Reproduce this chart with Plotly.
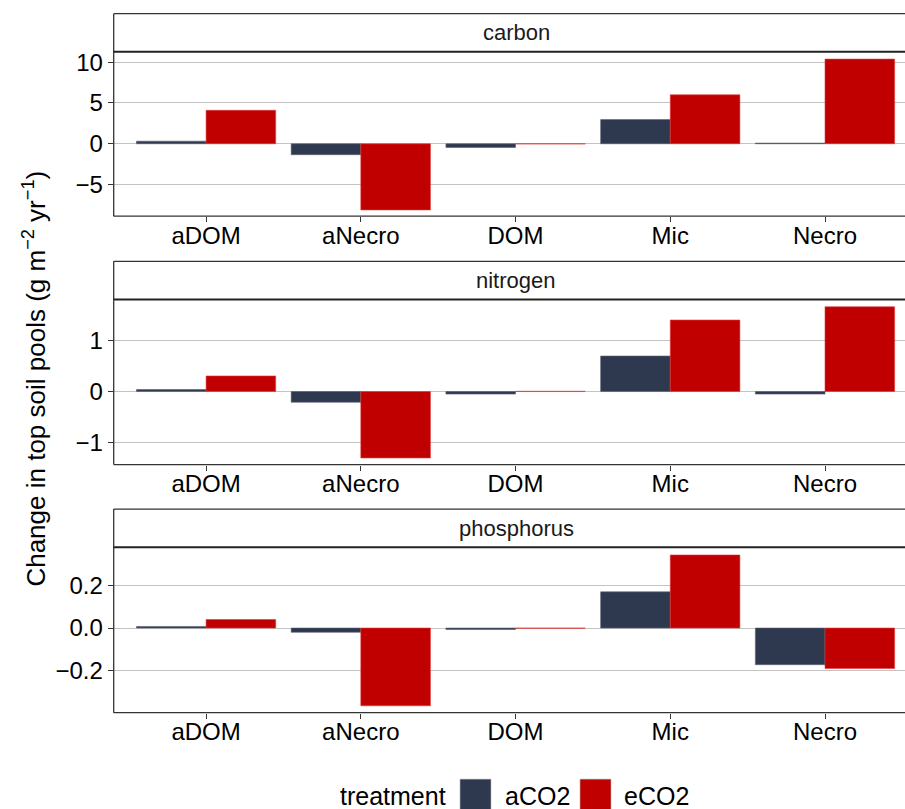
import plotly.graph_objects as go

categories = ["aDOM", "aNecro", "DOM", "Mic", "Necro"]
elements = ["carbon", "nitrogen", "phosphorus"]
treatments = ["aCO2", "eCO2"]

carbon_aCO2 = [0.32, -1.34, -0.45, 2.96, 0.08]
carbon_eCO2 = [4.10, -8.10, -0.02, 6.00, 10.37]
nitrogen_aCO2 = [0.04, -0.21, -0.05, 0.695, -0.05]
nitrogen_eCO2 = [0.305, -1.30, 0.006, 1.40, 1.66]
phosphorus_aCO2 = [0.0075, -0.02, -0.007, 0.169, -0.171]
phosphorus_eCO2 = [0.04, -0.363, -0.001, 0.341, -0.189]

y_ticks_carbon = [-5, 0, 5, 10]
y_ticks_nitrogen = [-1, 0, 1]
y_ticks_phosphorus = [-0.2, 0.0, 0.2]
y_ticklabels_carbon = ["\u22125", "0", "5", "10"]
y_ticklabels_nitrogen = ["\u22121", "0", "1"]
y_ticklabels_phosphorus = ["\u22120.2", "0.0", "0.2"]

series = {
    "carbon": (carbon_aCO2, carbon_eCO2),
    "nitrogen": (nitrogen_aCO2, nitrogen_eCO2),
    "phosphorus": (phosphorus_aCO2, phosphorus_eCO2),
}
ticks = {
    "carbon": (y_ticks_carbon, y_ticklabels_carbon),
    "nitrogen": (y_ticks_nitrogen, y_ticklabels_nitrogen),
    "phosphorus": (y_ticks_phosphorus, y_ticklabels_phosphorus),
}

W, H = 905, 809
col_a = "#2E3950"
col_e = "#C00000"
FONT = "Liberation Sans, Arial, sans-serif"

# pixel layout (top of strip, strip bottom / plot top, plot bottom)
panels_px = [(10.7, 49.0, 214.0), (259.3, 297.7, 463.3), (508.0, 546.3, 712.3)]
yranges = [(-8.87, 11.26), (-1.43, 1.80), (-0.395, 0.377)]
x_left_px = 113.7

def px_x(p):
    return p / W

def px_y(p):
    return 1 - p / H

fig = go.Figure()
layout = dict(
    width=W, height=H,
    margin=dict(l=0, r=0, t=0, b=0),
    paper_bgcolor="white", plot_bgcolor="white",
    barmode="group", bargap=0.1, bargroupgap=0,
    showlegend=False,
    font=dict(family=FONT, color="black"),
)
shapes = []
annotations = []

for i, el in enumerate(elements):
    n = "" if i == 0 else str(i + 1)
    a_vals, e_vals = series[el]
    fig.add_trace(go.Bar(x=categories, y=a_vals, name="aCO2", marker=dict(color=col_a, line=dict(color="#5A6274", width=0.6)),
                         xaxis="x" + n, yaxis="y" + n, showlegend=False))
    fig.add_trace(go.Bar(x=categories, y=e_vals, name="eCO2", marker=dict(color=col_e, line=dict(color="#E03A3A", width=0.6)),
                         xaxis="x" + n, yaxis="y" + n, showlegend=False))
    st, pt, pb = panels_px[i]
    tv, tt = ticks[el]
    layout["xaxis" + n] = dict(
        domain=[px_x(x_left_px), 1], anchor="y" + n,
        range=[-0.597, 4.517], type="category",
        showgrid=False, zeroline=False,
        ticks="outside", ticklen=5, tickwidth=1, tickcolor="#333333",
        tickfont=dict(size=24, family=FONT, color="black"),
        ticklabelstandoff=-7,
        showline=False, fixedrange=True,
    )
    layout["yaxis" + n] = dict(
        domain=[px_y(pb), px_y(pt)], anchor="x" + n,
        range=list(yranges[i]),
        tickvals=tv, ticktext=tt,
        showgrid=True, gridcolor="#C4C4C4", gridwidth=1,
        zeroline=False,
        ticks="outside", ticklen=5, tickwidth=1, tickcolor="#333333",
        tickfont=dict(size=24, family=FONT, color="black"),
        showline=False, fixedrange=True,
    )
    # panel border (left, bottom) + strip box
    shapes.append(dict(type="line", xref="paper", yref="paper",
                       x0=px_x(x_left_px), x1=px_x(x_left_px), y0=px_y(pb), y1=px_y(st),
                       line=dict(color="#333333", width=1.3)))
    shapes.append(dict(type="line", xref="paper", yref="paper",
                       x0=px_x(x_left_px), x1=1.0, y0=px_y(pb), y1=px_y(pb),
                       line=dict(color="#333333", width=1.3)))
    shapes.append(dict(type="line", xref="paper", yref="paper",
                       x0=px_x(x_left_px), x1=1.0, y0=px_y(st), y1=px_y(st),
                       line=dict(color="#333333", width=1.3)))
    shapes.append(dict(type="line", xref="paper", yref="paper",
                       x0=px_x(x_left_px), x1=1.0, y0=px_y(pt), y1=px_y(pt),
                       line=dict(color="#222222", width=2)))
    annotations.append(dict(text=el, xref="paper", yref="paper",
                            x=px_x(516), y=px_y((st + pt) / 2), showarrow=False,
                            xanchor="center", yanchor="middle",
                            font=dict(size=22, family=FONT, color="#1A1A1A")))

# y axis title
annotations.append(dict(
    text="Change in top soil pools (g m<sup>\u22122</sup> yr<sup>\u22121</sup>)",
    xref="paper", yref="paper", x=px_x(35), y=px_y(377), textangle=-90,
    showarrow=False, xanchor="center", yanchor="middle",
    font=dict(size=26, family=FONT, color="black")))

# legend (manual)
annotations.append(dict(text="treatment", xref="paper", yref="paper", x=px_x(448), y=px_y(796),
                        xanchor="right", yanchor="middle", showarrow=False,
                        font=dict(size=25, family=FONT, color="black")))
legend_items = [(treatments[0], col_a, 460, 503), (treatments[1], col_e, 580, 622)]
for name, col, bx, tx in legend_items:
    shapes.append(dict(type="rect", xref="paper", yref="paper",
                       x0=px_x(bx), x1=px_x(bx + 31), y0=px_y(810), y1=px_y(779),
                       fillcolor=col, line=dict(color="#BBBBBB", width=0.6)))
    annotations.append(dict(text=name, xref="paper", yref="paper", x=px_x(tx), y=px_y(796),
                            xanchor="left", yanchor="middle", showarrow=False,
                            font=dict(size=25, family=FONT, color="black")))

layout["shapes"] = shapes
layout["annotations"] = annotations
fig.update_layout(**layout)
fig.write_html("out.html")
